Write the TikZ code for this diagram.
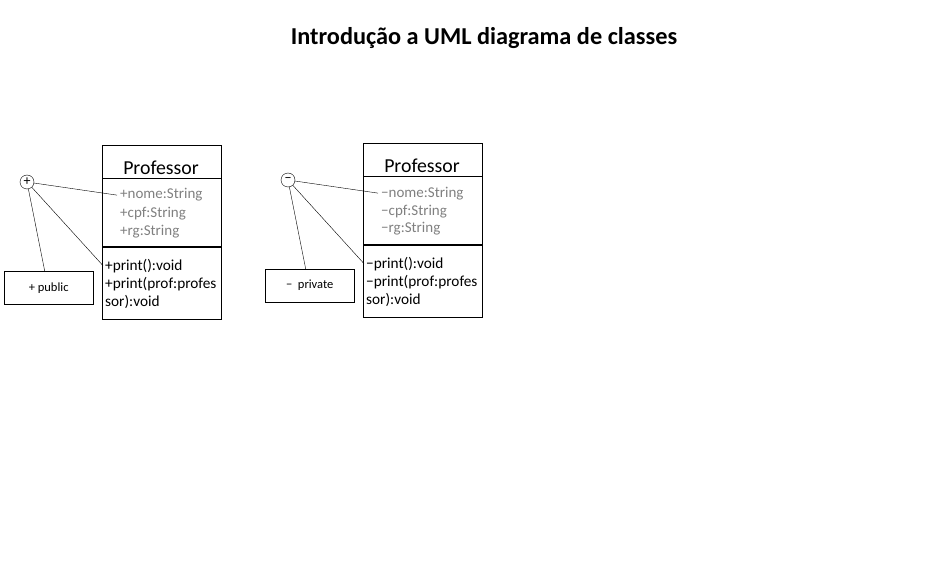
\documentclass[tikz,border=0pt]{standalone}
\usepackage{fontspec}
\setmainfont{Carlito}
\begin{document}
\begin{tikzpicture}[x=1pt, y=-1pt,
    caixa/.style={draw, thin, anchor=north west, minimum width=119pt, inner sep=0pt},
    atrib/.style={gray, font=\fontsize{15}{17}\selectfont, anchor=base west, inner sep=0pt},
    metodo/.style={black, font=\fontsize{15.3}{17}\selectfont, anchor=base west, inner sep=0pt},
    sinal/.style={draw, circle, minimum size=14pt, inner sep=0pt, font=\fontsize{14}{15}\selectfont},
    nota/.style={draw, thin, anchor=north west, minimum width=89pt, minimum height=33pt, inner sep=0pt, font=\fontsize{12.5}{14}\selectfont}]
    \useasboundingbox (0,0) rectangle (951,583);

    % Titulo
    \node[font=\bfseries\fontsize{24.3}{28}\selectfont] (titulo) at (484,38) {Introdução a UML diagrama de classes};

    % As duas classes (publico e privado)
    \foreach \dx/\dy/\s/\id/\vis in {0/0/+/a/\ public, 261/-2/−/b/\ \ private} {
        % Caixa da classe
        \node[caixa, minimum height=174pt] (classe\id) at (102+\dx,145+\dy) {};
        \draw (102+\dx,178+\dy) -- (221+\dx,178+\dy);
        \draw[line width=2.5pt] (102+\dx,247+\dy) -- (221+\dx,247+\dy);
        \node[font=\fontsize{19.8}{22}\selectfont] (nome\id) at (161+\dx,168+\dy) {Professor};

        % Atributos
        \node[atrib] (at1\id) at (120+\dx,199+\dy) {\s nome:String};
        \node[atrib] (at2\id) at (120+\dx,217+\dy) {\s cpf:String};
        \node[atrib] (at3\id) at (120+\dx,235+\dy) {\s rg:String};

        % Metodos
        \node[metodo] (me1\id) at (105+\dx,270+\dy) {\s print():void};
        \node[metodo] (me2\id) at (105+\dx,288+\dy) {\s print(prof:profes};
        \node[metodo] (me3\id) at (105+\dx,306+\dy) {sor):void};

        % Sinal de visibilidade e nota
        \node[sinal] (sinal\id) at (27+\dx,182+\dy) {\s};
        \node[nota] (nota\id) at (4+\dx,271+\dy) {\s\vis\hspace{10pt}};

        \draw (sinal\id) -- ([xshift=-3pt]at1\id.west);
        \draw (sinal\id) -- ([xshift=-2pt]me1\id.west);
        \draw (sinal\id) -- ([xshift=-4pt]nota\id.north);
    }

\end{tikzpicture}
\end{document}
